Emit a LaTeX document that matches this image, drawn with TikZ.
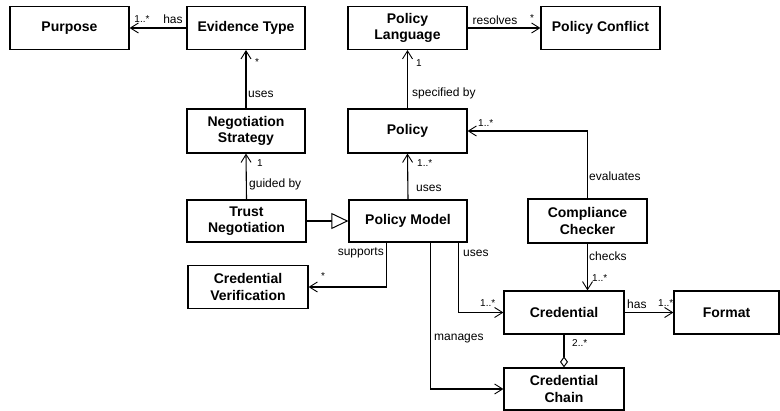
\documentclass[tikz,border=0pt]{standalone}
\usepackage{fontspec}
\setmainfont{Liberation Sans}
\usetikzlibrary{arrows.meta}
\tikzset{
  cls/.style={draw, line width=1.2pt, inner sep=0pt, align=center,
    font=\bfseries\fontsize{14}{16.5}\selectfont},
  lbl/.style={inner sep=0pt, font=\fontsize{12}{14}\selectfont},
  mult/.style={inner sep=0pt, font=\fontsize{10}{12}\selectfont},
  conn/.style={line width=1.1pt},
  assoc/.style={conn, -{Straight Barb[length=8pt,width=10pt,line width=0.9pt]}},
  gen/.style={conn, -{Triangle[open,length=17pt,width=16pt,line width=1pt,fill=white]}},
  aggr/.style={conn, -{Diamond[open,length=11pt,width=8pt,line width=1pt,fill=white]}}
}
\begin{document}
\begin{tikzpicture}[x=1pt,y=-1pt]
\useasboundingbox (0,0) rectangle (780,411);
% classes
\node[cls, minimum width=119pt, minimum height=43pt] (purp) at (69.5,28) {Purpose};
\node[cls, minimum width=118pt, minimum height=43pt] (evid) at (246,28) {Evidence Type};
\node[cls, minimum width=119pt, minimum height=43pt] (plang) at (407.5,28) {Policy\\Language};
\node[cls, minimum width=119pt, minimum height=43pt] (pconf) at (600.5,28) {Policy Conflict};
\node[cls, minimum width=118pt, minimum height=44pt] (neg) at (246,131) {Negotiation\\Strategy};
\node[cls, minimum width=119pt, minimum height=44pt] (policy) at (407.5,131) {Policy};
\node[cls, minimum width=119pt, minimum height=42pt] (trust) at (246.5,221) {Trust\\Negotiation};
\node[cls, minimum width=118pt, minimum height=42pt] (pm) at (408,221) {Policy Model};
\node[cls, minimum width=119pt, minimum height=44pt] (cc) at (587.5,221) {Compliance\\Checker};
\node[cls, minimum width=120pt, minimum height=43pt] (cv) at (248,287) {Credential\\Verification};
\node[cls, minimum width=120pt, minimum height=43pt] (cred) at (564,312.5) {Credential};
\node[cls, minimum width=105pt, minimum height=43pt] (fmt) at (726.5,312.5) {Format};
\node[cls, minimum width=120pt, minimum height=42pt] (chain) at (564,389) {Credential\\Chain};
% connectors
\draw[assoc] (evid.west) -- (purp.east);
\draw[assoc] (neg.north) -- (evid.south);
\draw[assoc] (policy.north) -- (plang.south);
\draw[assoc] (plang.east) -- (pconf.west);
\draw[assoc] (trust.north) -- (neg.south);
\draw[assoc] (pm.north) -- (policy.south);
\draw[gen] (trust.east) -- (pm.west);
\draw[assoc] (cc.north) |- (policy.east);
\draw[assoc] (cc.south) -- (cc.south |- cred.north);
\draw[assoc] ([xshift=38pt]pm.south west) |- (cv.east);
\draw[assoc] ([xshift=110pt]pm.south west) |- (cred.west);
\draw[assoc] ([xshift=82pt]pm.south west) |- (chain.west);
\draw[assoc] (cred.east) -- (fmt.west);
\draw[aggr] (cred.south) -- (chain.north);
% labels
\node[lbl] (l1) at (173,19) {has};
\node[mult] (m1) at (142,19) {1..*};
\node[mult] (m2) at (257,62) {*};
\node[lbl, anchor=west] (l2) at (248,94) {uses};
\node[mult] (m3) at (419,63) {1};
\node[lbl, anchor=west] (l3) at (412,93) {specified by};
\node[lbl] (l4) at (495,20) {resolves};
\node[mult] (m4) at (532,18) {*};
\node[mult] (m5) at (260,163) {1};
\node[lbl, anchor=west] (l5) at (249,184) {guided by};
\node[mult, anchor=west] (m6) at (417,163) {1..*};
\node[lbl, anchor=west] (l6) at (416,188) {uses};
\node[mult, anchor=west] (m7) at (478,123) {1..*};
\node[lbl, anchor=west] (l7) at (589,176) {evaluates};
\node[lbl, anchor=east] (l8) at (384,253) {supports};
\node[mult] (m8) at (323,276) {*};
\node[lbl, anchor=west] (l9) at (463,253) {uses};
\node[mult, anchor=west] (m9) at (480,303) {1..*};
\node[lbl, anchor=west] (l10) at (434,339) {manages};
\node[lbl, anchor=west] (l11) at (589,256) {checks};
\node[mult, anchor=west] (m10) at (592,278) {1..*};
\node[lbl, anchor=west] (l12) at (627,304) {has};
\node[mult, anchor=west] (m11) at (658,303) {1..*};
\node[mult, anchor=west] (m12) at (572,343) {2..*};
\end{tikzpicture}
\end{document}
